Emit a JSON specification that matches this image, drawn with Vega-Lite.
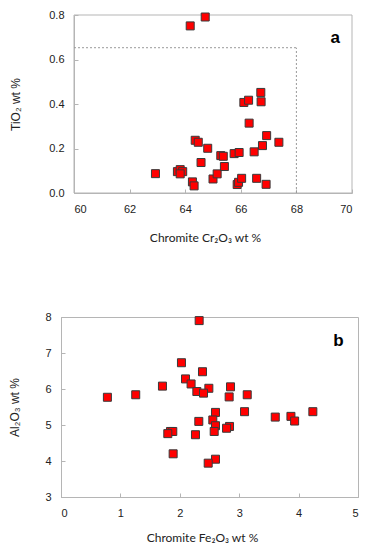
{
  "$schema": "https://vega.github.io/schema/vega-lite/v6.json",
  "padding": {"left": 8, "top": 9, "right": 5, "bottom": 5},
  "spacing": 67,
  "config": {
    "view": {"stroke": "#b5b5b5", "strokeWidth": 1},
    "axis": {
      "grid": false,
      "domainColor": "#b5b5b5",
      "tickColor": "#b5b5b5",
      "tickSize": -4,
      "tickCount": 20,
      "labelPadding": 14,
      "labelOverlap": false,
      "labelFont": "Liberation Sans",
      "labelFontSize": 11,
      "labelColor": "#222222",
      "titleFontWeight": "normal",
      "titleColor": "#222222"
    },
    "axisX": {"titleFont": "Lato", "titleFontSize": 12, "titlePadding": 16},
    "axisY": {"titleFont": "Liberation Sans", "titleFontSize": 12}
  },
  "datasets": {
    "a": [
      {"cr": 64.18, "ti": 0.751}, {"cr": 64.72, "ti": 0.791}, {"cr": 62.93, "ti": 0.087},
      {"cr": 63.72, "ti": 0.096}, {"cr": 63.82, "ti": 0.105}, {"cr": 63.91, "ti": 0.096},
      {"cr": 63.82, "ti": 0.086}, {"cr": 64.26, "ti": 0.05}, {"cr": 64.32, "ti": 0.032},
      {"cr": 64.36, "ti": 0.237}, {"cr": 64.47, "ti": 0.228}, {"cr": 64.57, "ti": 0.137},
      {"cr": 64.81, "ti": 0.201}, {"cr": 65.0, "ti": 0.063}, {"cr": 65.15, "ti": 0.086},
      {"cr": 65.28, "ti": 0.168}, {"cr": 65.37, "ti": 0.165}, {"cr": 65.41, "ti": 0.119},
      {"cr": 65.76, "ti": 0.177}, {"cr": 65.94, "ti": 0.182}, {"cr": 65.87, "ti": 0.038},
      {"cr": 65.92, "ti": 0.048}, {"cr": 66.03, "ti": 0.066}, {"cr": 66.11, "ti": 0.407},
      {"cr": 66.28, "ti": 0.417}, {"cr": 66.3, "ti": 0.314}, {"cr": 66.48, "ti": 0.185},
      {"cr": 66.57, "ti": 0.066}, {"cr": 66.72, "ti": 0.452}, {"cr": 66.73, "ti": 0.41},
      {"cr": 66.78, "ti": 0.213}, {"cr": 66.91, "ti": 0.039}, {"cr": 66.93, "ti": 0.258},
      {"cr": 67.37, "ti": 0.228}
    ],
    "b": [
      {"fe": 2.326, "al": 7.9}, {"fe": 2.028, "al": 6.73}, {"fe": 2.382, "al": 6.48},
      {"fe": 2.096, "al": 6.28}, {"fe": 2.19, "al": 6.14}, {"fe": 1.708, "al": 6.08},
      {"fe": 2.489, "al": 6.02}, {"fe": 2.287, "al": 5.93}, {"fe": 2.399, "al": 5.885},
      {"fe": 2.854, "al": 6.06}, {"fe": 2.831, "al": 5.78}, {"fe": 3.135, "al": 5.84},
      {"fe": 0.781, "al": 5.77}, {"fe": 1.258, "al": 5.84}, {"fe": 2.601, "al": 5.35},
      {"fe": 3.09, "al": 5.37}, {"fe": 2.556, "al": 5.14}, {"fe": 3.607, "al": 5.22},
      {"fe": 3.871, "al": 5.24}, {"fe": 3.933, "al": 5.11}, {"fe": 4.24, "al": 5.37},
      {"fe": 2.32, "al": 5.1}, {"fe": 2.601, "al": 4.98}, {"fe": 2.579, "al": 4.82},
      {"fe": 2.837, "al": 4.96}, {"fe": 2.787, "al": 4.91}, {"fe": 1.843, "al": 4.82},
      {"fe": 1.882, "al": 4.82}, {"fe": 1.798, "al": 4.76}, {"fe": 2.264, "al": 4.73},
      {"fe": 1.888, "al": 4.2}, {"fe": 2.601, "al": 4.05}, {"fe": 2.478, "al": 3.94}
    ],
    "box": [
      {"x": 60, "x2": 68, "y": 0.653, "y2": 0.653},
      {"x": 68, "x2": 68, "y": 0, "y2": 0.653}
    ],
    "frame": [{"x": 60, "x2": 70, "y": 0, "y2": 0.8}],
    "la": [{"x": 69.4, "y": 0.697, "t": "a"}],
    "lb": [{"x": 4.67, "y": 7.33, "t": "b"}]
  },
  "vconcat": [
    {
      "width": 291,
      "height": 178,
      "view": {"stroke": null},
      "layer": [
        {
          "data": {"name": "frame"},
          "mark": {"type": "rect", "fill": null, "stroke": "#b5b5b5", "strokeWidth": 1},
          "encoding": {
            "x": {"field": "x", "type": "quantitative"},
            "x2": {"field": "x2"},
            "y": {"field": "y", "type": "quantitative"},
            "y2": {"field": "y2"}
          }
        },
        {
          "data": {"name": "box"},
          "mark": {"type": "rule", "color": "#9a9a9a", "strokeWidth": 1, "strokeDash": [2, 2]},
          "encoding": {
            "x": {"field": "x", "type": "quantitative"},
            "x2": {"field": "x2"},
            "y": {"field": "y", "type": "quantitative"},
            "y2": {"field": "y2"}
          }
        },
        {
          "data": {"name": "a"},
          "mark": {"type": "square", "size": 64, "fill": "#ff0000", "fillOpacity": 1, "stroke": "#3a3a3a", "strokeWidth": 1},
          "encoding": {
            "x": {"field": "cr", "type": "quantitative", "scale": {"domain": [60, 70], "nice": false, "zero": false, "range": [13, 291]},
                  "axis": {"title": "Chromite Cr₂O₃ wt %", "values": [60, 62, 64, 66, 68, 70], "format": "d", "titleX": 144, "titlePadding": 18}},
            "y": {"field": "ti", "type": "quantitative", "scale": {"domain": [0, 0.8], "nice": false},
                  "axis": {"title": "TiO₂ wt %", "values": [0, 0.2, 0.4, 0.6, 0.8], "format": ".1f", "offset": -13, "titlePadding": 26}}
          }
        },
        {
          "data": {"name": "la"},
          "mark": {"type": "text", "font": "Liberation Sans", "fontSize": 17, "fontWeight": "bold", "color": "#000000"},
          "encoding": {
            "x": {"field": "x", "type": "quantitative"},
            "y": {"field": "y", "type": "quantitative"},
            "text": {"field": "t"}
          }
        }
      ]
    },
    {
      "width": 297,
      "height": 180,
      "layer": [
        {
          "data": {"name": "b"},
          "mark": {"type": "square", "size": 64, "fill": "#ff0000", "fillOpacity": 1, "stroke": "#3a3a3a", "strokeWidth": 1},
          "encoding": {
            "x": {"field": "fe", "type": "quantitative", "scale": {"domain": [0, 5], "nice": false},
                  "axis": {"title": "Chromite Fe₂O₃ wt %", "values": [0, 1, 2, 3, 4, 5], "format": "d", "titleX": 141, "titlePadding": 14}},
            "y": {"field": "al", "type": "quantitative", "scale": {"domain": [3, 8], "nice": false, "zero": false},
                  "axis": {"title": "Al₂O₃ wt %", "values": [3, 4, 5, 6, 7, 8], "format": "d", "titlePadding": 23}}
          }
        },
        {
          "data": {"name": "lb"},
          "mark": {"type": "text", "font": "Liberation Sans", "fontSize": 17, "fontWeight": "bold", "color": "#000000"},
          "encoding": {
            "x": {"field": "x", "type": "quantitative"},
            "y": {"field": "y", "type": "quantitative"},
            "text": {"field": "t"}
          }
        }
      ]
    }
  ]
}
